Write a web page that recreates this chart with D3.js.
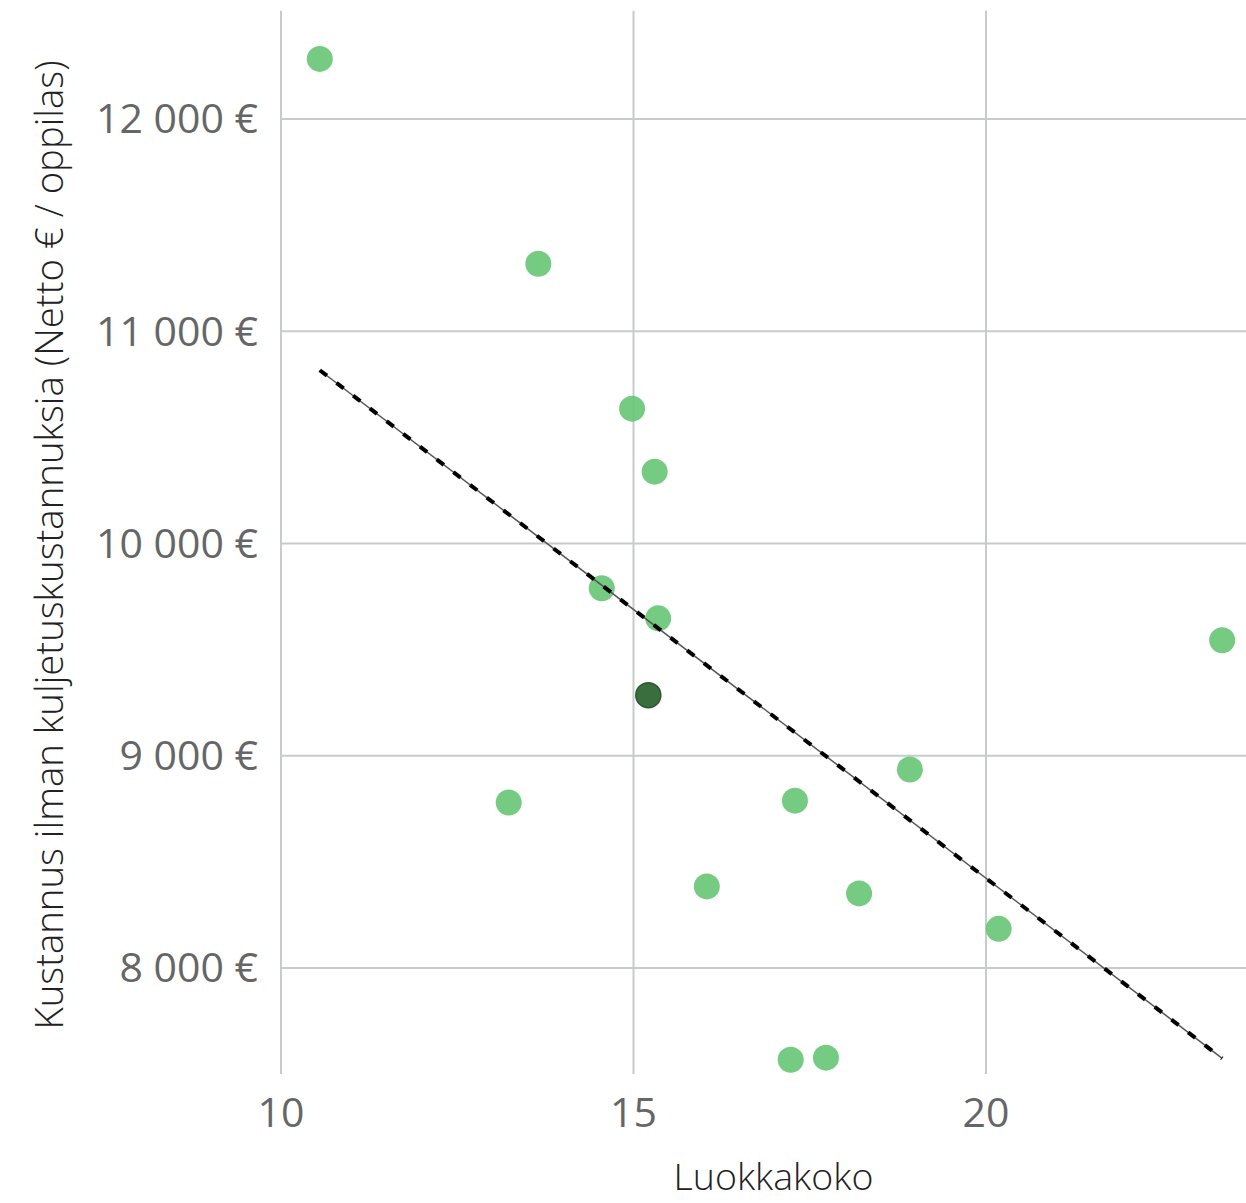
<!DOCTYPE html>
<html><head><meta charset="utf-8">
<script src="https://cdn.jsdelivr.net/npm/d3@7"></script>
<style>body{margin:0;background:#fff}svg{display:block}</style>
</head><body>
<script>
const classSize = [10.55, 13.65, 14.98, 15.30, 14.55, 15.35, 15.21, 23.35, 18.92, 13.23, 17.29, 16.04, 18.20, 20.18, 17.23, 17.73];
const costPerPupil = [12283, 11318, 10635, 10338, 9789, 9647, 9285, 9544, 8935, 8779, 8788, 8384, 8351, 8184, 7567, 7577];
const highlighted = [false,false,false,false,false,false,true,false,false,false,false,false,false,false,false,false];
const trendX = [10.55, 23.35];
const trendY = [10816, 7574];
const xTicks = [10, 15, 20];
const yTicks = [8000, 9000, 10000, 11000, 12000];
const xTitle = "Luokkakoko";
const yTitle = "Kustannus ilman kuljetuskustannuksia (Netto € / oppilas)";

const W = 1246, H = 1203;
const svg = d3.select("body").append("svg").attr("width", W).attr("height", H);
const font = "'Open Sans', 'Noto Sans', sans-serif";

const x = d3.scaleLinear().domain([10, 23.7]).range([281, 281 + 13.7 * 70.5]);
const y = d3.scaleLinear().domain([7500, 12510]).range([1074, 10.7]);
const pTop = y(12510), pBottom = y(7500), pLeft = x(10), pRight = W;

const fmt = v => d3.format(",")(v).replace(/,/g, " ") + " €";

// grid
svg.append("g").selectAll("line").data(yTicks).join("line")
  .attr("x1", pLeft).attr("x2", pRight).attr("y1", d => y(d)).attr("y2", d => y(d))
  .attr("stroke", "#c8ccc8").attr("stroke-width", 2);
svg.append("g").selectAll("line").data(xTicks).join("line")
  .attr("x1", d => x(d)).attr("x2", d => x(d)).attr("y1", pTop).attr("y2", pBottom)
  .attr("stroke", "#c8ccc8").attr("stroke-width", 2);

// tick labels
svg.append("g").selectAll("text").data(yTicks).join("text")
  .attr("x", 258).attr("y", d => y(d)).attr("dy", "0.35em")
  .attr("text-anchor", "end").attr("font-family", font).attr("font-size", 41)
  .attr("fill", "#666").text(fmt);
svg.append("g").selectAll("text").data(xTicks).join("text")
  .attr("x", d => x(d)).attr("y", 1127)
  .attr("text-anchor", "middle").attr("font-family", font).attr("font-size", 41)
  .attr("fill", "#666").text(d => d);

// axis titles
svg.append("text").attr("x", (pLeft + pRight) / 2 + 10).attr("y", 1190)
  .attr("text-anchor", "middle").attr("font-family", font).attr("font-size", 37.5)
  .attr("font-weight", 300).attr("fill", "#222").text(xTitle);
svg.append("text").attr("transform", `translate(63,545) rotate(-90)`)
  .attr("text-anchor", "middle").attr("font-family", font).attr("font-size", 38.3)
  .attr("font-weight", 300).attr("fill", "#222").text(yTitle);

// points
const pts = classSize.map((v, i) => ({x: v, y: costPerPupil[i], h: highlighted[i]}));
svg.append("g").selectAll("circle").data(pts.filter(d => !d.h)).join("circle")
  .attr("cx", d => x(d.x)).attr("cy", d => y(d.y)).attr("r", 13)
  .attr("fill", "#66c573").attr("fill-opacity", 0.9);

// trend line
const line = d3.line().x(d => x(d[0])).y(d => y(d[1]));
const tdata = trendX.map((v, i) => [v, trendY[i]]);
svg.append("path").attr("d", line(tdata)).attr("stroke", "#555").attr("stroke-width", 1.5).attr("fill", "none");
svg.append("path").attr("d", line(tdata)).attr("stroke", "#000").attr("stroke-width", 4)
  .attr("stroke-dasharray", "9 12").attr("fill", "none");

svg.append("g").selectAll("circle").data(pts.filter(d => d.h)).join("circle")
  .attr("cx", d => x(d.x)).attr("cy", d => y(d.y)).attr("r", 12.5)
  .attr("fill", "#3a6e3f").attr("stroke", "#2b5a30").attr("stroke-width", 1.5);
</script>
</body></html>
